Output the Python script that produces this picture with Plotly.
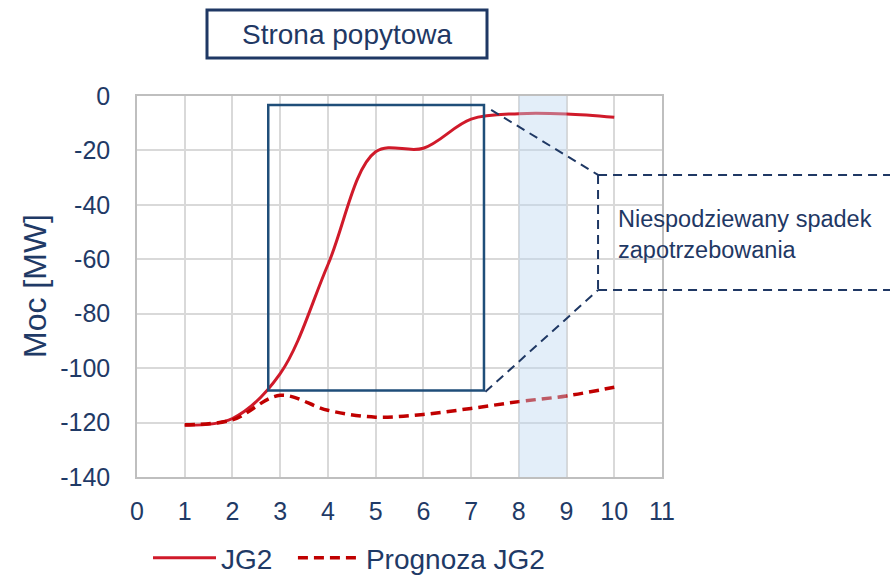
import plotly.graph_objects as go

# ---- data ----
x_vals = [1, 2, 3, 4, 5, 6, 7, 8, 9, 10]
jg2 = [-121, -118.5, -102, -62, -20.5, -19.2, -8.5, -6.5, -6.6, -7.8]
prognoza_jg2 = [-120.8, -119, -110, -115.5, -118, -117, -114.8, -112.3, -110.2, -107]
x_ticks = list(range(0, 12))
y_ticks = list(range(-140, 1, 20))
y_tick_labels = [str(v) for v in y_ticks]
series_names = ["JG2", "Prognoza JG2"]

title_text = "Strona popytowa"
y_title = "Moc [MW]"
callout_text = "Niespodziewany spadek<br>zapotrzebowania"
band_x = [8, 9]
zoom_box = dict(x0=2.75, x1=7.27, y0=-108.2, y1=-3.3)
callout = dict(x=9.66, top=-29, bottom=-71.3)

# ---- layout geometry ----
W, H = 890, 576
L, R, T, B = 137, 228, 96, 99
PW, PH = W - L - R, H - T - B
XR = (0, 11)
YR = (-140, 0)

def px2paper(px, py):
    return (px - L) / PW, (H - B - py) / PH

def d2paper(x, y):
    return (x - XR[0]) / (XR[1] - XR[0]), (y - YR[0]) / (YR[1] - YR[0])

NAVY = "#1F3864"
TXT = "#1F3A66"
FONT = "Liberation Sans, Arial, sans-serif"
PAD = "\u00a0\u00a0"

fig = go.Figure()
fig.add_trace(go.Scatter(
    x=x_vals, y=jg2, name=series_names[0] + PAD, mode="lines",
    line=dict(color="#D01A2A", width=3, shape="spline", smoothing=1.0)))
fig.add_trace(go.Scatter(
    x=x_vals, y=prognoza_jg2, name=series_names[1], mode="lines",
    line=dict(color="#C00000", width=3.5, shape="spline", smoothing=1.0, dash="10px,6px")))

shapes = []
shapes.append(dict(type="rect", xref="x", yref="y", x0=band_x[0], x1=band_x[1],
                   y0=YR[0], y1=YR[1], fillcolor="rgba(189,215,240,0.42)",
                   line=dict(width=0), layer="above"))
shapes.append(dict(type="rect", xref="x", yref="y", **zoom_box,
                   line=dict(color="#1F4E79", width=2.5), layer="above"))
cx, cyt = d2paper(callout["x"], callout["top"])
_, cyb = d2paper(callout["x"], callout["bottom"])
ux, uy = d2paper(zoom_box["x1"] + 0.15, zoom_box["y1"] - 1.8)
lx, ly = d2paper(zoom_box["x1"] + 0.03, zoom_box["y0"] - 0.5)
right_edge, _ = px2paper(W, 0)
dash_line = dict(color=NAVY, width=2, dash="9px,6px")
for (x0, y0, x1, y1) in [(ux, uy, cx, cyt), (lx, ly, cx, cyb), (cx, cyt, cx, cyb),
                         (cx, cyt, right_edge, cyt), (cx, cyb, right_edge, cyb)]:
    shapes.append(dict(type="line", xref="paper", yref="paper", x0=x0, y0=y0, x1=x1, y1=y1,
                       line=dash_line, layer="above"))
bx0, by0 = px2paper(207, 58)
bx1, by1 = px2paper(487, 10)
shapes.append(dict(type="rect", xref="paper", yref="paper", x0=bx0, y0=by0, x1=bx1, y1=by1,
                   line=dict(color=NAVY, width=3), fillcolor="white"))

annotations = []
tx, ty = px2paper(347, 35)
annotations.append(dict(text=title_text, xref="paper", yref="paper", x=tx, y=ty,
                        showarrow=False, xanchor="center", yanchor="middle",
                        font=dict(size=28, color=NAVY, family=FONT)))
yx, yy = px2paper(35, 286)
annotations.append(dict(text=y_title, xref="paper", yref="paper", x=yx, y=yy,
                        showarrow=False, xanchor="center", yanchor="middle", textangle=-90,
                        font=dict(size=32, color=TXT, family=FONT)))
ax, ay = px2paper(616, 234)
annotations.append(dict(text=callout_text, xref="paper", yref="paper", x=ax, y=ay,
                        showarrow=False, xanchor="left", yanchor="middle", align="left",
                        font=dict(size=23.5, color=NAVY, family=FONT)))

fig.update_layout(
    width=W, height=H,
    margin=dict(l=L, r=R, t=T, b=B, pad=0, autoexpand=False),
    paper_bgcolor="white", plot_bgcolor="white",
    font=dict(family=FONT, color=TXT, size=25),
    showlegend=True,
    legend=dict(orientation="h", xref="container", yref="container",
                x=148 / W, y=(H - 558) / H, xanchor="left", yanchor="middle",
                font=dict(size=28, color=TXT, family=FONT), itemwidth=63,
                bgcolor="rgba(0,0,0,0)"),
    shapes=shapes,
    annotations=annotations,
)
fig.update_xaxes(range=list(XR), tickvals=x_ticks, showgrid=True, gridcolor="#D9D9D9",
                 gridwidth=1.5, showline=True, linecolor="#BFBFBF", linewidth=1.5, mirror=True,
                 zeroline=False, ticks="", tickfont=dict(size=25, color=TXT),
                 ticklabelstandoff=11)
fig.update_yaxes(range=list(YR), tickvals=y_ticks, ticktext=y_tick_labels, showgrid=True,
                 gridcolor="#D9D9D9",
                 gridwidth=1.5, showline=True, linecolor="#BFBFBF", linewidth=1.5, mirror=True,
                 zeroline=False, ticks="", tickfont=dict(size=25, color=TXT),
                 ticklabelstandoff=20)

fig.write_html("out.html", config={"displayModeBar": False},
               post_script="document.body.style.margin='0';")
